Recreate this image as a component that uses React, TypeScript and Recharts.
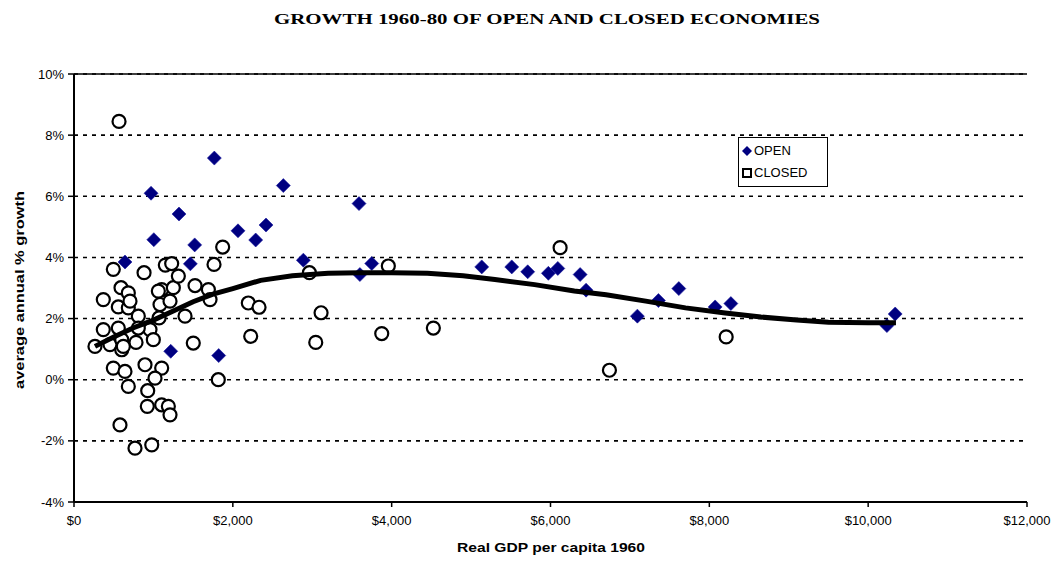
import React from "react";
import {
  ScatterChart,
  Scatter,
  XAxis,
  YAxis,
  CartesianGrid,
  ReferenceLine,
} from "recharts";

const title = "GROWTH 1960-80 OF OPEN AND CLOSED ECONOMIES";
const xAxisTitle = "Real GDP per capita 1960";
const yAxisTitle = "average annual % growth";

const xTicks = [0, 2000, 4000, 6000, 8000, 10000, 12000];
const yTicks = [-4, -2, 0, 2, 4, 6, 8, 10];

const openGdp = [
  1767, 970, 2636, 1322, 1005, 2065, 2418, 2288, 1520, 642, 1465, 2888, 3589,
  3600, 1218, 1822, 3749, 5134, 5512, 5713, 5973, 6092, 6373, 6448, 7094,
  7359, 7616, 8073, 8271, 10236, 10340,
];
const openGrowth = [
  7.25, 6.1, 6.35, 5.42, 4.58, 4.87, 5.06, 4.57, 4.41, 3.85, 3.79, 3.91, 5.76,
  3.44, 0.93, 0.79, 3.8, 3.69, 3.69, 3.53, 3.48, 3.64, 3.44, 2.93, 2.08, 2.59,
  2.98, 2.38, 2.49, 1.77, 2.15,
];

const closedGdp = [
  567, 495, 882, 1150, 1230, 1763, 1872, 592, 684, 369, 558, 684, 1104, 1251,
  1314, 1524, 1692, 1713, 1083, 1209, 810, 957, 1071, 1398, 369, 264, 453, 601,
  601, 781, 999, 1502, 495, 642, 894, 1104, 1020, 684, 928, 1817, 923, 1104,
  1188, 1209, 579, 768, 979, 2195, 2330, 2225, 3111, 3044, 2964, 705, 1062, 558,
  810, 621, 3958, 6121, 3875, 4525, 6742, 8212,
];
const closedGrowth = [
  8.45, 3.61, 3.5, 3.75, 3.8, 3.77, 4.34, 3.01, 2.84, 2.62, 2.38, 2.35, 2.95,
  3.01, 3.39, 3.08, 2.95, 2.62, 2.46, 2.57, 2.08, 1.64, 2.02, 2.08, 1.64, 1.09,
  1.15, 1.31, 0.98, 1.22, 1.31, 1.2, 0.38, 0.27, 0.49, 0.38, 0.05, -0.22, -0.36,
  0.0, -0.87, -0.82, -0.87, -1.15, -1.48, -2.24, -2.13, 2.51, 2.37, 1.42, 2.19,
  1.22, 3.5, 2.57, 2.9, 1.69, 1.69, 1.09, 3.72, 4.32, 1.51, 1.69, 0.31, 1.4,
];

const trendGdp = [
  264, 500, 750, 1000, 1250, 1500, 1750, 2000, 2350, 2750, 3200, 3600, 4000,
  4450, 4900, 5300, 5800, 6300, 6700, 7200, 7700, 8200, 8650, 9100, 9500,
  10000, 10350,
];
const trendGrowth = [
  1.09, 1.4, 1.7, 1.95, 2.25, 2.55, 2.8, 2.98, 3.25, 3.4, 3.48, 3.5, 3.5, 3.48,
  3.4, 3.28, 3.11, 2.9, 2.78, 2.57, 2.35, 2.18, 2.05, 1.95, 1.88, 1.86, 1.86,
];

const openData = openGdp.map((x, i) => ({ x, y: openGrowth[i] }));
const closedData = closedGdp.map((x, i) => ({ x, y: closedGrowth[i] }));
const trendData = trendGdp.map((x, i) => ({ x, y: trendGrowth[i] }));

const NAVY = "#000080";
const SANS = "Arial, 'Liberation Sans', sans-serif";

const Diamond = (props: any) => {
  const { cx, cy } = props;
  if (cx == null || cy == null) return <g />;
  const r = 7;
  return (
    <polygon
      points={`${cx},${cy - r} ${cx + r},${cy} ${cx},${cy + r} ${cx - r},${cy}`}
      fill={NAVY}
      stroke="#1a1aa0"
      strokeWidth={0.6}
    />
  );
};

const Ring = (props: any) => {
  const { cx, cy } = props;
  if (cx == null || cy == null) return <g />;
  return <circle cx={cx} cy={cy} r={6.5} fill="#fff" stroke="#000" strokeWidth={2.2} />;
};

const NoShape = () => <g />;

const fmtMoney = (v: number) => "$" + v.toLocaleString("en-US");
const fmtPct = (v: number) => `${v}%`;

const LegendBox = () => (
  <div
    style={{
      position: "absolute",
      left: 738,
      top: 137,
      width: 90,
      height: 50,
      border: "1.5px solid #000",
      background: "#fff",
      fontFamily: SANS,
      fontSize: 13,
      lineHeight: "22px",
      boxSizing: "border-box",
      padding: "2px 0 0 3px",
      color: "#000",
    }}
  >
    <div style={{ display: "flex", alignItems: "center" }}>
      <svg width={10} height={10} style={{ marginRight: 2 }}>
        <polygon points="5,0 10,5 5,10 0,5" fill={NAVY} />
      </svg>
      OPEN
    </div>
    <div style={{ display: "flex", alignItems: "center" }}>
      <svg width={10} height={10} style={{ marginRight: 2 }}>
        <rect x={1} y={1} width={8} height={8} fill="#fff" stroke="#000" strokeWidth={2} />
      </svg>
      CLOSED
    </div>
  </div>
);

export default function App() {
  return (
    <div style={{ position: "absolute", left: 0, top: 0, width: 1052, height: 563, background: "#fff" }}>
      <ScatterChart
        width={1052}
        height={563}
        margin={{ top: 74, right: 25, left: 30, bottom: 0 }}
      >
        <CartesianGrid
          horizontal
          vertical={false}
          stroke="#000"
          strokeWidth={1.6}
          strokeDasharray="4 5"
        />
        <ReferenceLine y={10} stroke="#000" strokeWidth={1.6} />
        <XAxis
          type="number"
          dataKey="x"
          domain={[0, 12000]}
          ticks={xTicks}
          tickFormatter={fmtMoney}
          height={61}
          axisLine={{ stroke: "#000", strokeWidth: 2 }}
          tickLine={{ stroke: "#000", strokeWidth: 1.5 }}
          tickSize={5}
          tickMargin={9}
          tick={{ fill: "#000", fontSize: 13, fontFamily: SANS }}
          interval={0}
        />
        <YAxis
          type="number"
          dataKey="y"
          domain={[-4, 10]}
          ticks={yTicks}
          tickFormatter={fmtPct}
          width={44}
          axisLine={{ stroke: "#000", strokeWidth: 2 }}
          tickLine={{ stroke: "#000", strokeWidth: 1.5 }}
          tickSize={6}
          tickMargin={4}
          tick={{ fill: "#000", fontSize: 13, fontFamily: SANS }}
          interval={0}
        />
        <Scatter name="CLOSED" data={closedData} shape={Ring} isAnimationActive={false} />
        <Scatter name="OPEN" data={openData} shape={Diamond} isAnimationActive={false} />
        <Scatter
          name="trend"
          data={trendData}
          shape={NoShape}
          line={{ stroke: "#000", strokeWidth: 5 }}
          lineJointType="linear"
          isAnimationActive={false}
          legendType="none"
        />
      </ScatterChart>
      <LegendBox />
      <svg
        width={1052}
        height={563}
        style={{ position: "absolute", left: 0, top: 0, pointerEvents: "none" }}
      >
        <text
          x={547}
          y={24}
          textAnchor="middle"
          fontFamily="'Liberation Serif', 'Times New Roman', serif"
          fontWeight="bold"
          fontSize={15}
          textLength={546}
          lengthAdjust="spacingAndGlyphs"
        >
          {title}
        </text>
        <text
          x={551}
          y={552}
          textAnchor="middle"
          fontFamily={SANS}
          fontWeight="bold"
          fontSize={13}
          textLength={188}
          lengthAdjust="spacingAndGlyphs"
        >
          {xAxisTitle}
        </text>
        <text
          x={0}
          y={0}
          transform="translate(24,290) rotate(-90)"
          textAnchor="middle"
          fontFamily={SANS}
          fontWeight="bold"
          fontSize={12}
          textLength={198}
          lengthAdjust="spacingAndGlyphs"
        >
          {yAxisTitle}
        </text>
      </svg>
    </div>
  );
}
